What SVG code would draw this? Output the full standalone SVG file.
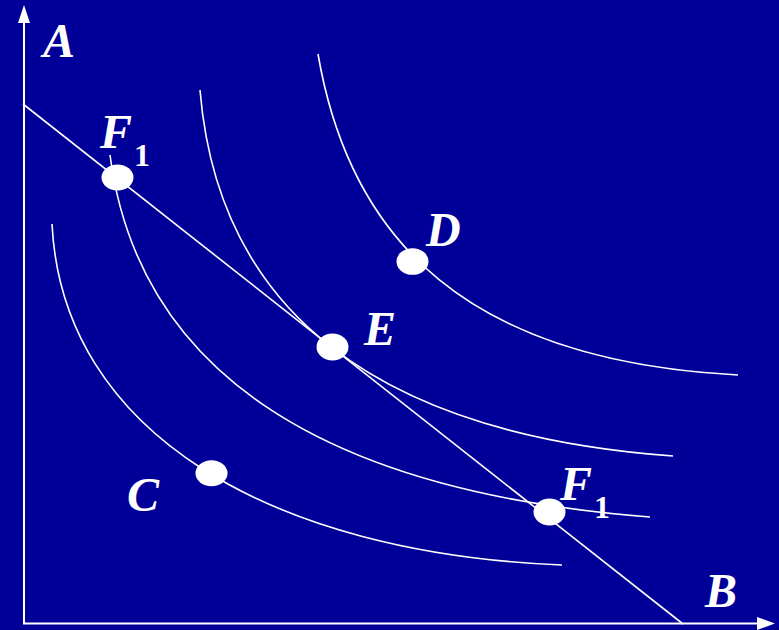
<svg xmlns="http://www.w3.org/2000/svg" width="779" height="630" viewBox="0 0 779 630">
<style>
.bg{fill:#000099}
.ax{stroke:#fff;stroke-width:2;fill:none}
.cv{stroke:#fff;stroke-width:1.6;fill:none}
.dot{fill:#fff}
.lb{font-family:"Liberation Serif","Times New Roman",serif;font-weight:bold;font-style:italic;font-size:48px;fill:#fff}
.sub{font-size:32px;font-style:normal}
</style>
<rect class="bg" x="0" y="0" width="779" height="630"/>
<g id="axes">
<line class="ax" x1="24" y1="624" x2="24" y2="20"/>
<polygon fill="#fff" points="24,5 18,23 30,23"/>
<line class="ax" x1="23" y1="623.5" x2="760" y2="623.5"/>
<polygon fill="#fff" points="775,623.5 757,617 757,630"/>
</g>
<g id="connectors">
<line class="cv" x1="23" y1="104" x2="683" y2="624"/>
<path id="curveC" class="cv" d="M52,224 C62.5,434 272,553 562,565"/>
<path id="curveF" class="cv" d="M110,155 C138,368 316,491 650,517"/>
<path id="curveE" class="cv" d="M200,90 C218,309 374,434 673,456"/>
<path id="curveD" class="cv" d="M318,54 C350,241 468,361 738,375"/>
</g>
<g id="nodeF1top"><ellipse class="dot" cx="117.5" cy="177.5" rx="16" ry="13"/><text class="lb" x="100" y="148">F<tspan class="sub" dx="2" dy="18">1</tspan></text></g>
<g id="nodeE"><ellipse class="dot" cx="332.5" cy="347" rx="16" ry="13.5"/><text class="lb" x="364" y="345">E</text></g>
<g id="nodeD"><ellipse class="dot" cx="412.5" cy="261.5" rx="16" ry="13.3"/><text class="lb" x="426" y="246">D</text></g>
<g id="nodeC"><ellipse class="dot" cx="211.5" cy="473.3" rx="16" ry="13"/><text class="lb" x="127" y="511">C</text></g>
<g id="nodeF1bot"><ellipse class="dot" cx="549.5" cy="512" rx="16" ry="13.5"/><text class="lb" x="560" y="500">F<tspan class="sub" dx="2" dy="18">1</tspan></text></g>
<g id="labelA"><text class="lb" x="43" y="57">A</text></g>
<g id="labelB"><text class="lb" x="705" y="607">B</text></g>
</svg>
